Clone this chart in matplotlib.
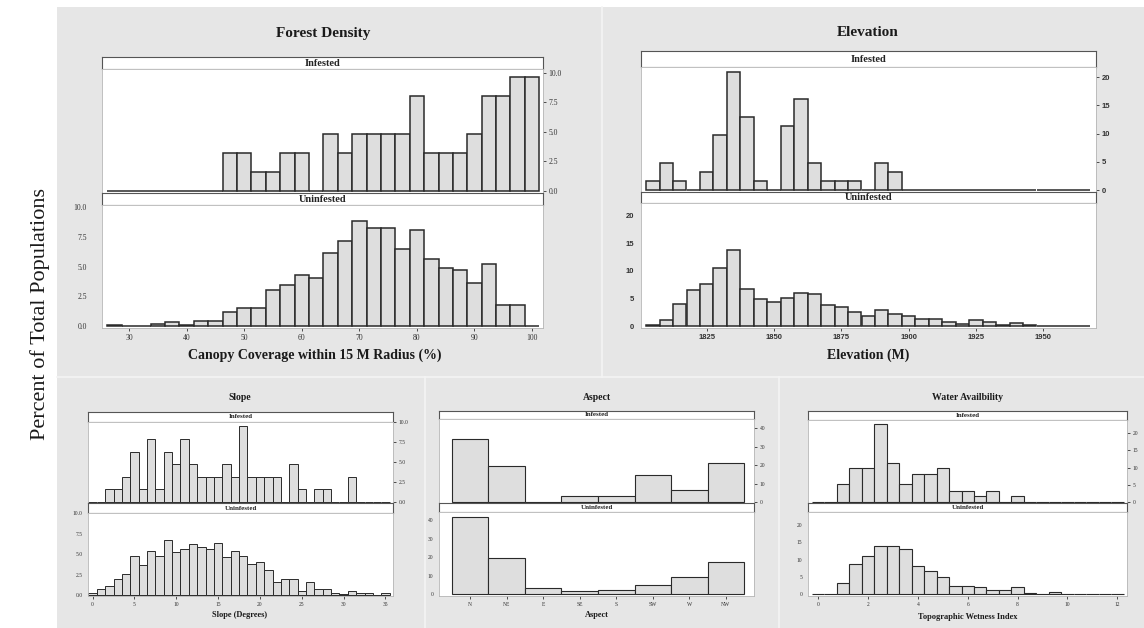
import matplotlib
matplotlib.use("Agg")
import matplotlib.pyplot as plt
from matplotlib.patches import Rectangle
from matplotlib.lines import Line2D
import numpy as np

W, H = 1144, 628
SERIF = ["Liberation Serif", "DejaVu Serif"]

# ---------------- data (percent of population) ----------------
forest_bins = [27.5, 30, 32.5, 35, 37.5, 40, 42.5, 45, 47.5, 50, 52.5, 55, 57.5, 60, 62.5,
               65, 67.5, 70, 72.5, 75, 77.5, 80, 82.5, 85, 87.5, 90, 92.5, 95, 97.5, 100]
forest_inf = [0, 0, 0, 0, 0, 0, 0, 0, 3.2, 3.2, 1.6, 1.6, 3.2, 3.2, 0,
              4.8, 3.2, 4.8, 4.8, 4.8, 4.8, 8.0, 3.2, 3.2, 3.2, 4.8, 8.0, 8.0, 9.6, 9.6]
forest_uninf = [0.05, 0, 0, 0.15, 0.3, 0.05, 0.4, 0.4, 1.2, 1.5, 1.5, 3.0, 3.45, 4.25, 4.0,
                6.1, 7.15, 8.85, 8.2, 8.2, 6.5, 8.05, 5.65, 4.9, 4.7, 3.65, 5.2, 1.75, 1.75, 0]

elev_bins = [1805, 1810, 1815, 1820, 1825, 1830, 1835, 1840, 1845, 1850, 1855, 1860, 1865,
             1870, 1875, 1880, 1885, 1890, 1895, 1900, 1905, 1910, 1915, 1920, 1925, 1930,
             1935, 1940, 1945, 1950, 1955, 1960, 1965]
elev_inf = [1.6, 4.8, 1.6, 0, 3.2, 9.7, 21.0, 12.9, 1.6, 0, 11.3, 16.1, 4.8,
            1.6, 1.6, 1.6, 0, 4.8, 3.2, 0, 0, 0, 0, 0, 0, 0,
            0, 0, 0, 0, 0, 0, 0]
elev_uninf = [0.15, 1.05, 4.05, 6.45, 7.65, 10.5, 13.85, 6.7, 4.95, 4.35, 5.15, 5.95, 5.85,
              3.75, 3.45, 2.55, 1.9, 2.85, 2.15, 1.8, 1.35, 1.3, 0.7, 0.4, 1.0, 0.8,
              0.15, 0.5, 0.1, 0, 0, 0, 0]

slope_bins = list(range(0, 36))
slope_inf = [0, 0, 1.6, 1.6, 3.2, 6.3, 1.6, 7.9, 1.6, 6.3, 4.8, 7.9, 4.8, 3.2, 3.2, 3.2,
             4.8, 3.2, 9.5, 3.2, 3.2, 3.2, 3.2, 0, 4.8, 1.6, 0, 1.6, 1.6, 0, 0, 3.2,
             0, 0, 0, 0]
slope_uninf = [0.2, 0.75, 1.1, 1.95, 2.55, 4.7, 3.6, 5.4, 4.8, 6.65, 5.2, 5.6, 6.2, 5.8, 5.6,
               6.4, 4.6, 5.4, 4.8, 3.75, 4.0, 3.0, 1.55, 1.9, 1.9, 0.55, 1.6, 0.75, 0.75,
               0.2, 0.1, 0.5, 0.2, 0.2, 0.05, 0.2]

aspect_cats = ["N", "NE", "E", "SE", "S", "SW", "W", "NW"]
aspect_inf = [33.9, 19.4, 0, 3.2, 3.2, 14.5, 6.4, 21.0]
aspect_uninf = [41.6, 19.5, 3.2, 1.6, 2.3, 5.2, 9.5, 17.5]

water_bins = [0, 0.5, 1.0, 1.5, 2.0, 2.5, 3.0, 3.5, 4.0, 4.5, 5.0, 5.5, 6.0, 6.5, 7.0, 7.5,
              8.0, 8.5, 9.0, 9.5, 10.0, 10.5, 11.0, 11.5, 12.0]
water_inf = [0, 0, 5.2, 9.9, 9.9, 22.6, 11.4, 5.2, 8.2, 8.2, 9.9, 3.3, 3.3, 1.7, 3.3, 0,
             1.7, 0, 0, 0, 0, 0, 0, 0, 0]
water_uninf = [0.2, 0.2, 3.2, 8.85, 11.2, 14.0, 14.0, 13.0, 8.3, 6.7, 5.0, 2.5, 2.5, 2.0,
               1.35, 1.35, 2.0, 0.4, 0.2, 0.7, 0.2, 0.1, 0.1, 0.1, 0.1]

# ---------------- figure ----------------
fig = plt.figure(figsize=(W / 100, H / 100), dpi=100)
fig.patch.set_facecolor("white")

BG = "#e6e6e6"
fig.add_artist(Rectangle((57 / W, 0), 1 - 57 / W, 1 - 7 / H, transform=fig.transFigure,
                         facecolor=BG, edgecolor="none", zorder=-10))
for (x0, y0, x1, y1) in [(57, 377, 1144, 377), (602, 7, 602, 377),
                         (425, 377, 425, 628), (779, 377, 779, 628)]:
    fig.add_artist(Line2D([x0 / W, x1 / W], [1 - y0 / H, 1 - y1 / H], transform=fig.transFigure,
                          color="#f4f4f4", lw=1.2, zorder=-9))


def px_axes(l, t, r, b):
    return fig.add_axes([l / W, 1 - b / H, (r - l) / W, (b - t) / H])


def strip(l, t, r, b, label, fs):
    ax = px_axes(l, t, r, b)
    ax.set_xticks([])
    ax.set_yticks([])
    ax.set_facecolor("white")
    for s in ax.spines.values():
        s.set_color("#555555")
        s.set_linewidth(0.8)
    ax.text(0.5, 0.5, label, ha="center", va="center", fontsize=fs, fontweight="bold",
            family=SERIF, transform=ax.transAxes, color="#222222")
    return ax


def facet(l, r, ys, xs, inf, uninf, width, xlim, ylim_u, ylim_l, yticks, ytl,
          xticks, xtl, title, title_xy, title_fs, xlabel, xlabel_xy, xlabel_fs,
          strip_fs, tick_fs, lw, tick_family=SERIF, tick_weight="normal", lpad=4):
    st_t, p1_t, mid, p2_t, bot = ys
    strip(l, st_t, r, p1_t, "Infested", strip_fs)
    axu = px_axes(l, p1_t, r, mid)
    strip(l, mid, r, p2_t, "Uninfested", strip_fs)
    axl = px_axes(l, p2_t, r, bot)
    for ax, vals, ylim in [(axu, inf, ylim_u), (axl, uninf, ylim_l)]:
        ax.bar(xs, vals, width=width, facecolor="#dedede", edgecolor="#2a2a2a",
               linewidth=lw, align="center")
        ax.set_xlim(*xlim)
        ax.set_ylim(*ylim)
        ax.set_facecolor("white")
        for s in ax.spines.values():
            s.set_color("#b5b5b5")
            s.set_linewidth(0.6)
        ax.set_yticks(yticks)
        ax.set_yticklabels(ytl)
    axu.yaxis.tick_right()
    axu.set_xticks([])
    axu.tick_params(axis="y", length=2, width=0.6, pad=2, labelsize=tick_fs,
                    colors="#333333")
    axl.set_xticks(xticks)
    axl.set_xticklabels(xtl)
    axl.tick_params(axis="y", length=0, pad=lpad, labelsize=tick_fs, colors="#333333")
    axl.tick_params(axis="x", length=2, width=0.6, pad=2, labelsize=tick_fs,
                    colors="#333333")
    for ax in (axu, axl):
        for t in ax.get_yticklabels() + ax.get_xticklabels():
            t.set_family(tick_family)
            t.set_fontweight(tick_weight)
    fig.text(title_xy[0] / W, 1 - title_xy[1] / H, title, ha="center", va="center",
             fontsize=title_fs, fontweight="bold", family=SERIF, color="#1a1a1a")
    fig.text(xlabel_xy[0] / W, 1 - xlabel_xy[1] / H, xlabel, ha="center", va="center",
             fontsize=xlabel_fs, fontweight="bold", family=SERIF, color="#1a1a1a")
    return axu, axl


# Forest density
facet(102, 543, (57, 69, 193, 205, 328), forest_bins, forest_inf, forest_uninf, 2.5,
      (25.3, 101.9), (-0.17, 10.3), (-0.17, 10.17), [0, 2.5, 5, 7.5, 10],
      ["0.0", "2.5", "5.0", "7.5", "10.0"], [30, 40, 50, 60, 70, 80, 90, 100],
      ["30", "40", "50", "60", "70", "80", "90", "100"],
      "Forest Density", (323, 34), 11, "Canopy Coverage within 15 M Radius (%)",
      (315, 355), 10, 7.5, 5.5, 1.1, lpad=11)

# Elevation
facet(641, 1096, (51, 67, 192, 203, 328), elev_bins, elev_inf, elev_uninf, 5,
      (1800.6, 1969.6), (-0.35, 21.8), (-0.36, 22.3), [0, 5, 10, 15, 20],
      ["0", "5", "10", "15", "20"], [1825, 1850, 1875, 1900, 1925, 1950],
      ["1825", "1850", "1875", "1900", "1925", "1950"],
      "Elevation", (868, 33), 11, "Elevation (M)", (868, 355), 10, 7.5, 5.5, 1.1,
      tick_family=["Liberation Sans", "DejaVu Sans"], tick_weight="bold", lpad=5)

# Slope
facet(88, 393, (412, 422, 503, 513, 596), slope_bins, slope_inf, slope_uninf, 1,
      (-0.55, 35.9), (-0.13, 10.05), (-0.12, 10.0), [0, 2.5, 5, 7.5, 10],
      ["0.0", "2.5", "5.0", "7.5", "10.0"], [0, 5, 10, 15, 20, 25, 30, 35],
      ["0", "5", "10", "15", "20", "25", "30", "35"],
      "Slope", (240, 397), 7, "Slope (Degrees)", (240, 615), 6, 5, 4, 0.7)

# Aspect
facet(439, 754, (411, 419, 503, 512, 596), list(range(len(aspect_cats))), aspect_inf,
      aspect_uninf, 1, (-0.85, 7.77), (-0.5, 44.9), (-1.0, 44.5), [0, 10, 20, 30, 40],
      ["0", "10", "20", "30", "40"], list(range(len(aspect_cats))), aspect_cats,
      "Aspect", (597, 397), 7, "Aspect", (597, 615), 6, 5, 4, 0.8)

# Water availability
facet(808, 1127, (411, 420, 503, 512, 596), water_bins, water_inf, water_uninf, 0.5,
      (-0.41, 12.39), (-0.3, 23.8), (-0.5, 23.8), [0, 5, 10, 15, 20],
      ["0", "5", "10", "15", "20"], [0, 2, 4, 6, 8, 10, 12],
      ["0", "2", "4", "6", "8", "10", "12"],
      "Water Availbility", (968, 397), 7, "Topographic Wetness Index", (968, 617), 6,
      5, 4, 0.8)

fig.text(40 / W, 1 - 314 / H, "Percent of Total Populations", rotation=90, ha="center",
         va="center", fontsize=16, family=SERIF, color="#1a1a1a")

fig.savefig("out.png", dpi=100)
